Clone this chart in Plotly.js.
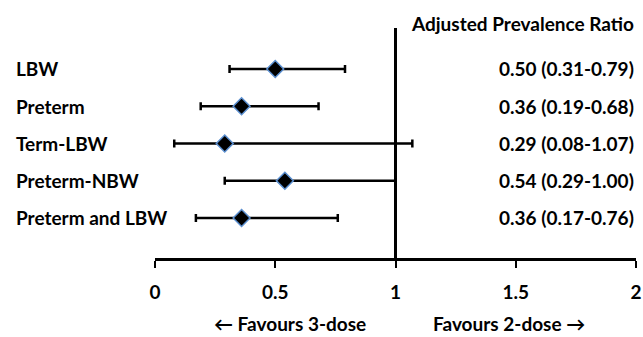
<!DOCTYPE html>
<html><head><meta charset="utf-8">
<script src="https://cdn.plot.ly/plotly-3.0.1.min.js"></script>
<style>body{margin:0;padding:0;background:#fff}#chart{width:643px;height:337px}</style>
</head><body><div id="chart"></div>
<script>
const outcomes = ["LBW", "Preterm", "Term-LBW", "Preterm-NBW", "Preterm and LBW"];
const ratio = [0.50, 0.36, 0.29, 0.54, 0.36];
const lower = [0.31, 0.19, 0.08, 0.29, 0.17];
const upper = [0.79, 0.68, 1.07, 1.00, 0.76];
const ratioLabels = ["0.50 (0.31-0.79)", "0.36 (0.19-0.68)", "0.29 (0.08-1.07)", "0.54 (0.29-1.00)", "0.36 (0.17-0.76)"];
const xTicks = [0, 0.5, 1, 1.5, 2];
const xTickText = ["0", "0.5", "1", "1.5", "2"];

const FONT = "Lato, 'Open Sans', sans-serif";
const FS = 19;
const yPos = outcomes.map((_, i) => outcomes.length - i);

const trace = {
  x: ratio, y: yPos, type: "scatter", mode: "markers",
  marker: {symbol: "diamond", size: 13, color: "#000", line: {color: "#5b8fd0", width: 1.5}},
  error_x: {type: "data", symmetric: false,
    array: ratio.map((r, i) => upper[i] - r),
    arrayminus: ratio.map((r, i) => r - lower[i]),
    color: "#000", thickness: 2.5, width: 4},
  cliponaxis: false, hoverinfo: "skip"
};

const annotations = [];
outcomes.forEach((o, i) => {
  annotations.push({text: "<b>" + o + "</b>", xref: "paper", x: -0.293, xanchor: "left", y: yPos[i], yref: "y", showarrow: false, font: {size: FS, color: "#000", family: FONT}});
  annotations.push({text: "<b>" + ratioLabels[i] + "</b>", xref: "paper", x: 1.0, xanchor: "right", y: yPos[i], yref: "y", showarrow: false, font: {size: FS, color: "#000", family: FONT}});
});
annotations.push({text: "<b>Adjusted Prevalence Ratio</b>", xref: "paper", x: 1.0, xanchor: "right", yref: "paper", y: 1.02, yanchor: "middle", showarrow: false, font: {size: FS, color: "#000", family: FONT}});
annotations.push({text: "<b>← Favours 3-dose</b>", xref: "x", x: 0.56, xanchor: "center", yref: "paper", y: -0.285, yanchor: "middle", showarrow: false, font: {size: FS, color: "#000", family: FONT}});
annotations.push({text: "<b>Favours 2-dose →</b>", xref: "x", x: 1.47, xanchor: "center", yref: "paper", y: -0.285, yanchor: "middle", showarrow: false, font: {size: FS, color: "#000", family: FONT}});

const layout = {
  width: 643, height: 337,
  margin: {l: 155, r: 7, t: 28, b: 79},
  paper_bgcolor: "#fff", plot_bgcolor: "#fff",
  showlegend: false,
  xaxis: {range: [0, 2], tickvals: xTicks, ticktext: xTickText.map(t => "<b>" + t + "</b>"),
    showgrid: false, zeroline: false, showline: true, linecolor: "#000", linewidth: 3,
    ticks: "outside", ticklen: 7, tickwidth: 2, tickcolor: "#000",
    tickfont: {size: FS, color: "#000", family: FONT}, ticklabelstandoff: 8, fixedrange: true},
  yaxis: {range: [-0.074, 6.10], visible: false, fixedrange: true},
  shapes: [{type: "line", xref: "x", x0: 1, x1: 1, yref: "paper", y0: 0, y1: 1, line: {color: "#000", width: 3}}],
  annotations: annotations
};

Plotly.newPlot("chart", [trace], layout, {displayModeBar: false, staticPlot: true});
</script></body></html>
